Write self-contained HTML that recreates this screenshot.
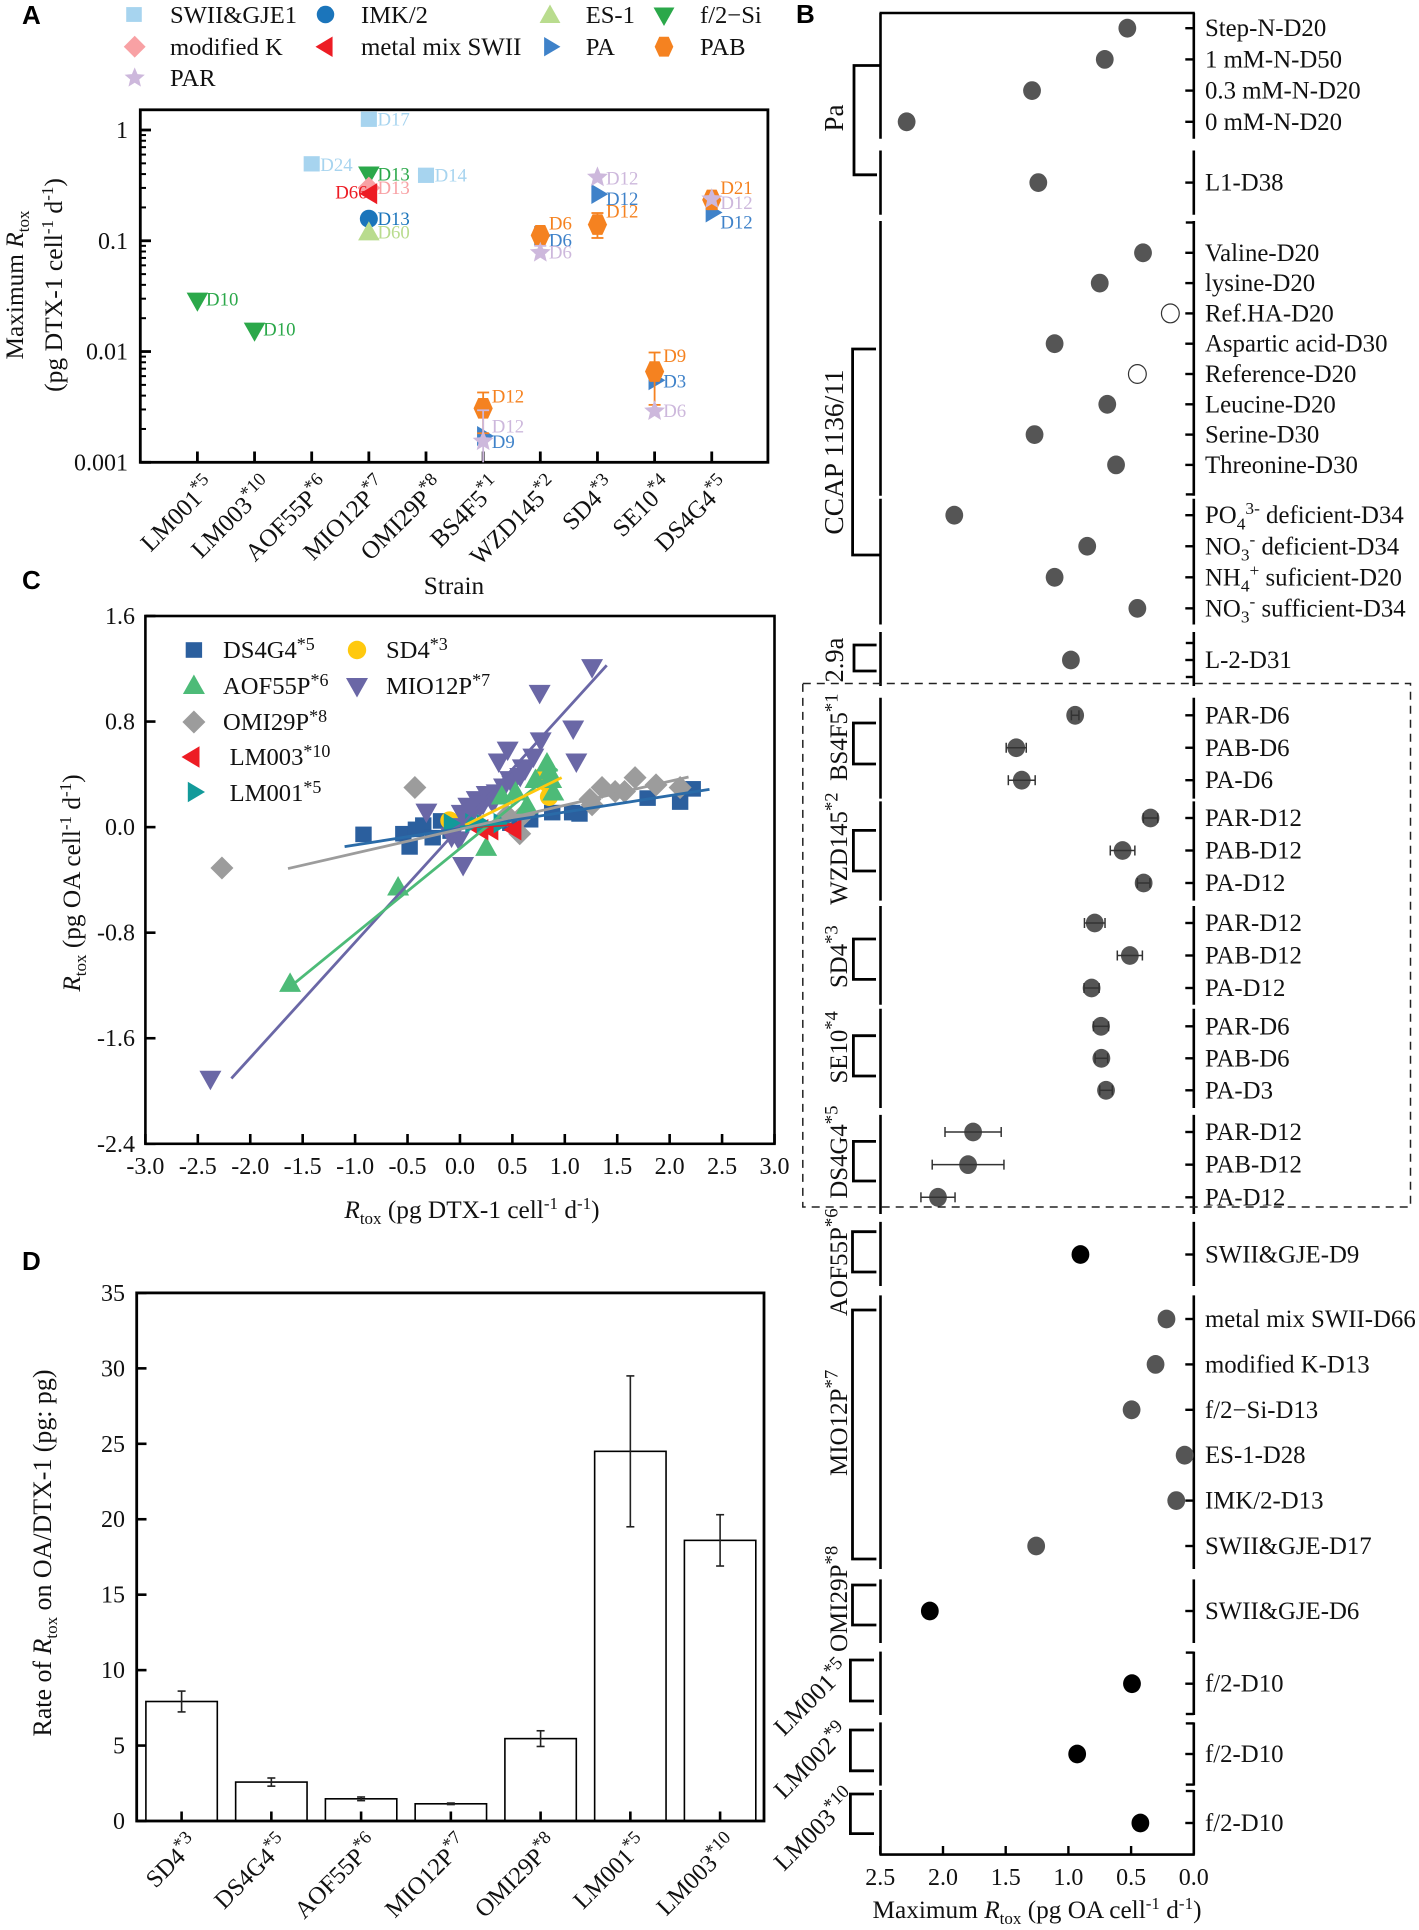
<!DOCTYPE html>
<html lang="en">
<head>
<meta charset="utf-8">
<title>Rtox multi-panel figure</title>
<style>
html,body{margin:0;padding:0;background:#fff;}
svg{display:block;font-family:"Liberation Serif",serif;}
.plab{font-family:"Liberation Sans",sans-serif;font-weight:bold;font-size:26px;}
.t24{font-size:24px;fill:#111;}
.leg{font-size:24.6px;fill:#111;}
.ttl{font-size:25.3px;fill:#111;}
</style>
</head>
<body>
<svg id="fig" xmlns="http://www.w3.org/2000/svg" width="1419" height="1930" viewBox="0 0 1419 1930">
<rect width="1419" height="1930" fill="#fff"/>

<text class="plab" x="22" y="24">A</text>
<text class="plab" x="796" y="23">B</text>
<text class="plab" x="22" y="589">C</text>
<text class="plab" x="22" y="1270">D</text>

<g id="panelA">
  <g id="aLegend">
    <text class="leg" x="170" y="23">SWII&amp;GJE1</text>
    <text class="leg" x="361" y="23">IMK/2</text>
    <text class="leg" x="585.7" y="23">ES-1</text>
    <text class="leg" x="700" y="23">f/2−Si</text>
    <text class="leg" x="170" y="55">modified K</text>
    <text class="leg" x="361" y="55" style="font-size:24.9px">metal mix SWII</text>
    <text class="leg" x="585.7" y="55">PA</text>
    <text class="leg" x="700" y="55">PAB</text>
    <text class="leg" x="170" y="86">PAR</text>
  </g>
  <text class="ttl" font-size="25.5" transform="translate(23,285) rotate(-90)" text-anchor="middle">Maximum <tspan font-style="italic">R</tspan><tspan dy="6" font-size="17">tox</tspan></text>
  <text class="ttl" transform="translate(62,285) rotate(-90)" text-anchor="middle" style="font-size:25.6px">(pg DTX-1 cell<tspan dy="-9" font-size="17">-1</tspan><tspan dy="9"> d</tspan><tspan dy="-9" font-size="17">-1</tspan><tspan dy="9">)</tspan></text>
  <text class="ttl" x="454" y="594" text-anchor="middle">Strain</text>
</g>

<g id="panelC">
  <g id="cLegend">
    <text class="leg" x="223" y="658">DS4G4<tspan dy="-8" font-size="18">*5</tspan></text>
    <text class="leg" x="386" y="658">SD4<tspan dy="-8" font-size="18">*3</tspan></text>
    <text class="leg" x="223" y="694">AOF55P<tspan dy="-8" font-size="18">*6</tspan></text>
    <text class="leg" x="386" y="694">MIO12P<tspan dy="-8" font-size="18">*7</tspan></text>
    <text class="leg" x="223" y="730">OMI29P<tspan dy="-8" font-size="18">*8</tspan></text>
    <text class="leg" x="229.6" y="765">LM003<tspan dy="-8" font-size="18">*10</tspan></text>
    <text class="leg" x="229.6" y="801">LM001<tspan dy="-8" font-size="18">*5</tspan></text>
  </g>
  <text class="ttl" transform="translate(80,883) rotate(-90)" text-anchor="middle"><tspan font-style="italic">R</tspan><tspan dy="6" font-size="17">tox</tspan><tspan dy="-6"> (pg OA cell</tspan><tspan dy="-9" font-size="17">-1</tspan><tspan dy="9"> d</tspan><tspan dy="-9" font-size="17">-1</tspan><tspan dy="9">)</tspan></text>
  <text class="ttl" x="472" y="1218" text-anchor="middle"><tspan font-style="italic">R</tspan><tspan dy="6" font-size="17">tox</tspan><tspan dy="-6"> (pg DTX-1 cell</tspan><tspan dy="-9" font-size="17">-1</tspan><tspan dy="9"> d</tspan><tspan dy="-9" font-size="17">-1</tspan><tspan dy="9">)</tspan></text>
</g>

<g id="panelD">
  <text class="ttl" style="font-size:25.9px" transform="translate(51,1553) rotate(-90)" text-anchor="middle">Rate of <tspan font-style="italic">R</tspan><tspan dy="6" font-size="17">tox</tspan><tspan dy="-6"> on OA/DTX-1 (pg: pg)</tspan></text>
</g>

<g id="panelB">
  <text class="ttl" x="1037" y="1918" text-anchor="middle">Maximum <tspan font-style="italic">R</tspan><tspan dy="6" font-size="17">tox</tspan><tspan dy="-6"> (pg OA cell</tspan><tspan dy="-9" font-size="17">-1</tspan><tspan dy="9"> d</tspan><tspan dy="-9" font-size="17">-1</tspan><tspan dy="9">)</tspan></text>
</g>
</svg>

<script>
/* ---------- Panel A data ---------- */
const aStrains = ['LM001','LM003','AOF55P','MIO12P','OMI29P','BS4F5','WZD145','SD4','SE10','DS4G4'];
const aStrainLabels = ['LM001^{*5}','LM003^{*10}','AOF55P^{*6}','MIO12P^{*7}','OMI29P^{*8}','BS4F5^{*1}','WZD145^{*2}','SD4^{*3}','SE10^{*4}','DS4G4^{*5}'];
const aTickValues = [1,0.1,0.01,0.001];
const aTickLabels = ['1','0.1','0.01','0.001'];

const swiiStrains = ['MIO12P','AOF55P','OMI29P'];
const swiiValues = [1.25,0.495,0.39];
const swiiDays = ['D17','D24','D14'];
const imkStrains = ['MIO12P'];
const imkValues = [0.158];
const imkDays = ['D13'];
const esStrains = ['MIO12P'];
const esValues = [0.121];
const esDays = ['D60'];
const f2Strains = ['LM001','LM003','MIO12P'];
const f2Values = [0.0283,0.0152,0.39];
const f2Days = ['D10','D10','D13'];
const modkStrains = ['MIO12P'];
const modkValues = [0.30];
const modkDays = ['D13'];
const metalStrains = ['MIO12P'];
const metalValues = [0.266];
const metalDays = ['D66'];
const paStrains = ['BS4F5','WZD145','SD4','SE10','DS4G4'];
const paValues = [0.00173,0.111,0.264,0.0055,0.18];
const paDays = ['D9','D6','D12','D3','D12'];
const pabStrains = ['BS4F5','WZD145','SD4','SE10','DS4G4'];
const pabValues = [0.00307,0.112,0.14,0.0066,0.234];
const pabHigh = [0.00427,0.118,0.178,0.0098,0.25];
const pabLow = [0.00183,0.106,0.106,0.0033,0.193];
const pabDays = ['D12','D6','D12','D9','D21'];
const parStrains = ['BS4F5','WZD145','SD4','SE10','DS4G4'];
const parValues = [0.00155,0.078,0.374,0.0029,0.238];
const parHigh = [0.00295,0.09,0.374,0.0029,0.238];
const parLow = [0.001,0.078,0.374,0.0029,0.238];
const parDays = ['D12','D6','D12','D6','D12'];

/* ---------- Panel B data ---------- */
const bTickValues = [2.5,2.0,1.5,1.0,0.5,0.0];
const bTickLabels = ['2.5','2.0','1.5','1.0','0.5','0.0'];
const bSegmentLabels = [
  ['Step-N-D20','1 mM-N-D50','0.3 mM-N-D20','0 mM-N-D20'],
  ['L1-D38'],
  ['Valine-D20','lysine-D20','Ref.HA-D20','Aspartic acid-D30','Reference-D20','Leucine-D20','Serine-D30','Threonine-D30'],
  ['PO_{4}^{3-} deficient-D34','NO_{3}^{-} deficient-D34','NH_{4}^{+} suficient-D20','NO_{3}^{-} sufficient-D34'],
  ['L-2-D31'],
  ['PAR-D6','PAB-D6','PA-D6'],
  ['PAR-D12','PAB-D12','PA-D12'],
  ['PAR-D12','PAB-D12','PA-D12'],
  ['PAR-D6','PAB-D6','PA-D3'],
  ['PAR-D12','PAB-D12','PA-D12'],
  ['SWII&GJE-D9'],
  ['metal mix SWII-D66','modified K-D13','f/2−Si-D13','ES-1-D28','IMK/2-D13','SWII&GJE-D17'],
  ['SWII&GJE-D6'],
  ['f/2-D10'],
  ['f/2-D10'],
  ['f/2-D10']
];
const bSegmentValues = [
  [0.53,0.71,1.29,2.29],
  [1.24],
  [0.405,0.75,0.187,1.11,0.45,0.69,1.27,0.62],
  [1.91,0.85,1.11,0.45],
  [0.98],
  [0.946,1.416,1.372],
  [0.345,0.568,0.40],
  [0.79,0.51,0.815],
  [0.74,0.737,0.70],
  [1.76,1.80,2.04],
  [0.904],
  [0.218,0.305,0.496,0.073,0.14,1.257],
  [2.105],
  [0.493],
  [0.93],
  [0.426]
];
const bSegmentErrors = [
  [0,0,0,0],[0],[0,0,0,0,0,0,0,0],[0,0,0,0],[0],
  [0.03,0.08,0.107],
  [0.057,0.098,0.05],
  [0.082,0.10,0.06],
  [0.06,0.05,0.05],
  [0.224,0.286,0.136],
  [0],[0,0,0,0,0,0],[0],[0],[0],[0]
];
const bSegmentKinds = [
  ['f','f','f','f'],['f'],['f','f','o','f','o','f','f','f'],['f','f','f','f'],['f'],
  ['f','f','f'],['f','f','f'],['f','f','f'],['f','f','f'],['f','f','f'],
  ['k'],['f','f','f','f','f','f'],['k'],['k'],['k'],['k']
];

/* ---------- Panel C data ---------- */
const cXTicks = [-3,-2.5,-2,-1.5,-1,-0.5,0,0.5,1,1.5,2,2.5,3];
const cXTickLabels = ['-3.0','-2.5','-2.0','-1.5','-1.0','-0.5','0.0','0.5','1.0','1.5','2.0','2.5','3.0'];
const cYTicks = [1.6,0.8,0,-0.8,-1.6,-2.4];
const cYTickLabels = ['1.6','0.8','0.0','-0.8','-1.6','-2.4'];
const ds4g4X = [-0.92,-0.54,-0.48,-0.42,-0.35,-0.26,-0.18,-0.09,0.48,0.67,0.88,1.07,1.14,1.79,2.1,2.22];
const ds4g4Y = [-0.055,-0.05,-0.15,-0.017,0.015,-0.08,0.047,-0.03,0.03,0.056,0.11,0.11,0.1,0.22,0.19,0.29];
const sd4X = [-0.1,0.78,0.85,0.84];
const sd4Y = [0.05,0.38,0.23,0.33];
const mioX = [-2.38,-0.32,-0.08,-0.01,0.03,-0.08,-0.03,0.017,0.05,0.08,0.125,0.16,0.19,0.22,0.255,0.29,0.315,0.35,0.37,0.42,0.455,0.478,0.5,0.575,0.6,0.62,0.7,0.76,0.77,1.08,1.11,1.26];
const mioY = [-1.915,0.11,-0.08,-0.1,-0.295,-0.07,0.0,0.10,0.06,0.154,0.11,0.205,0.15,0.17,0.243,0.21,0.18,0.256,0.49,0.3,0.58,0.356,0.32,0.38,0.445,0.43,0.527,1.01,0.65,0.74,0.49,1.205];
const omiX = [-2.27,-0.43,0.45,0.57,0.6,0.625,1.24,1.26,1.355,1.48,1.57,1.67,1.87,2.1];
const omiY = [-0.31,0.30,0.09,-0.05,0.09,0.11,0.21,0.17,0.30,0.27,0.27,0.375,0.32,0.30];
const aofX = [-1.62,-0.59,0.25,0.4,0.53,0.64,0.72,0.83,0.85,0.87,0.89];
const aofY = [-1.18,-0.45,-0.15,0.24,0.27,0.17,0.365,0.49,0.43,0.365,0.27];
const lm003X = [0.19,0.285,0.505];
const lm003Y = [-0.02,-0.02,-0.02];
const lm001X = [-0.095,0.11,0.22,0.38];
const lm001Y = [0.03,0.03,0.02,0.03];
const fitDs4g4X = [-1.1,2.38];
const fitDs4g4Y = [-0.148,0.286];
const fitOmiX = [-1.64,2.18];
const fitOmiY = [-0.314,0.38];
const fitAofX = [-1.62,0.93];
const fitAofY = [-1.21,0.44];
const fitMioX = [-2.18,1.40];
const fitMioY = [-1.905,1.226];
const fitSd4X = [0.05,0.97];
const fitSd4Y = [0.015,0.375];
const fitLm003X = [0.05,0.5];
const fitLm003Y = [0.0,0.02];
const fitLm001X = [0.0,0.45];
const fitLm001Y = [0.0,0.03];

/* ---------- Panel D data ---------- */
const dStrains = ['SD4^{*3}','DS4G4^{*5}','AOF55P^{*6}','MIO12P^{*7}','OMI29P^{*8}','LM001^{*5}','LM003^{*10}'];
const dValues = [7.92,2.58,1.47,1.14,5.46,24.5,18.6];
const dErrors = [0.69,0.27,0.12,0.05,0.52,5.0,1.7];
const dTicks = [0,5,10,15,20,25,30,35];
const dTickLabels = ['0','5','10','15','20','25','30','35'];

/* ---------- helpers ---------- */
const NS = 'http://www.w3.org/2000/svg';
const svg = document.getElementById('fig');
function el(tag, parent, attrs) {
  const e = document.createElementNS(NS, tag);
  for (const k in attrs) e.setAttribute(k, attrs[k]);
  parent.appendChild(e);
  return e;
}
function line(parent, x1, y1, x2, y2, color, w) {
  return el('line', parent, {x1:x1, y1:y1, x2:x2, y2:y2, stroke:color, 'stroke-width':w});
}
function richText(t, str, size, supScale) {
  const re = /([_^])\{([^}]*)\}/g;
  let last = 0, m, pending = 0;
  function plain(s) {
    if (!s) return;
    const ts = el('tspan', t, {});
    if (pending) { ts.setAttribute('dy', pending); pending = 0; }
    ts.textContent = s;
  }
  while ((m = re.exec(str))) {
    plain(str.slice(last, m.index));
    last = re.lastIndex;
    const isSub = m[1] === '_';
    const shift = isSub ? size * 0.25 : -size * 0.38;
    const ts = el('tspan', t, {dy: pending + shift, 'font-size': size * (isSub ? 0.7 : (supScale || 0.7))});
    ts.textContent = m[2];
    pending = -shift;
  }
  plain(str.slice(last));
}
function marker(parent, shape, x, y, s, color) {
  const pts = a => a.map(p => (x + p[0] * s).toFixed(2) + ',' + (y + p[1] * s).toFixed(2)).join(' ');
  if (shape === 'square') return el('rect', parent, {x:x - s * 0.82, y:y - s * 0.78, width:s * 1.64, height:s * 1.56, fill:color});
  if (shape === 'circle') return el('ellipse', parent, {cx:x, cy:y, rx:s * 0.92, ry:s * 0.92, fill:color});
  if (shape === 'up') return el('polygon', parent, {points:pts([[0,-1.05],[1.1,0.9],[-1.1,0.9]]), fill:color});
  if (shape === 'down') return el('polygon', parent, {points:pts([[0,1.05],[1.1,-0.9],[-1.1,-0.9]]), fill:color});
  if (shape === 'left') return el('polygon', parent, {points:pts([[-0.95,0],[0.85,-1.08],[0.85,1.08]]), fill:color});
  if (shape === 'right') return el('polygon', parent, {points:pts([[1.1,0],[-0.62,-1.02],[-0.62,1.02]]), fill:color});
  if (shape === 'diamond') return el('polygon', parent, {points:pts([[0,-1.15],[1.15,0],[0,1.15],[-1.15,0]]), fill:color});
  if (shape === 'hex') return el('polygon', parent, {points:pts([[-0.5,-1.05],[0.5,-1.05],[0.98,0],[0.5,1.05],[-0.5,1.05],[-0.98,0]]), fill:color});
  if (shape === 'star') {
    const a = [];
    for (let i = 0; i < 10; i++) {
      const r = i % 2 ? 0.5 : 1.12, th = -Math.PI / 2 + i * Math.PI / 5;
      a.push([r * Math.cos(th), r * Math.sin(th)]);
    }
    return el('polygon', parent, {points:pts(a), fill:color});
  }
}

/* ---------- Panel A ---------- */
const pA = document.getElementById('panelA');
const aLeg = document.getElementById('aLegend');
const aX = i => 197.4 + i * 57.15;
const aXS = name => aX(aStrains.indexOf(name));
const aY = v => 130 + (0 - Math.log10(v)) * 110.77;
const COL = {swii:'#a7d4ef',imk:'#1b75bb',es:'#b9dc8e',f2:'#2ba84a',modk:'#f8a1a4',metal:'#ed1c24',pa:'#3f82c9',pab:'#f58220',par:'#cdb8dc'};

const aLegendShapes = [
  ['square',134,14.5,COL.swii,'legend-marker-swii'],['circle',325.5,14.5,COL.imk,'legend-marker-imk'],
  ['up',550,14.5,COL.es,'legend-marker-es1'],['down',664,16,COL.f2,'legend-marker-f2-si'],
  ['diamond',134.7,46.7,COL.modk,'legend-marker-modified-k'],['left',324.5,46.7,COL.metal,'legend-marker-metal-mix'],
  ['right',550,46.7,COL.pa,'legend-marker-pa'],['hex',664,46.7,COL.pab,'legend-marker-pab'],
  ['star',134.7,78,COL.par,'legend-marker-par']
];
aLegendShapes.forEach(d => {
  const m = marker(aLeg, d[0], d[1], d[2], 9.5, d[3]);
  
  
});

const aFrame = el('rect', pA, {x:140.3, y:109.8, width:627.6, height:352.5, fill:'none', stroke:'#000', 'stroke-width':2.8});



aTickValues.forEach((v, i) => {
  const y = aY(v);
  const t = line(pA, 140.3, y, 151, y, '#000', 2.8);
  
  
  const lab = el('text', pA, {x:128, y:y + 8, 'text-anchor':'end', class:'t24'});
  lab.textContent = aTickLabels[i];
  
  
  if (i < aTickValues.length - 1) {
    for (let k = 2; k <= 9; k++) {
      const ym = aY(v / 10 * k);
      const mt = line(pA, 140.3, ym, 146, ym, '#000', 2);
      
      
    }
  }
});
aStrainLabels.forEach((s, i) => {
  const x = aX(i);
  const t = line(pA, x, 462, x, 451.5, '#000', 2.8);
  
  
  const lab = el('text', pA, {transform:'translate(' + (x + 19) + ',487) rotate(-45)', 'text-anchor':'end', class:'t24', style:'font-size:24.8px'});
  richText(lab, s, 24.8, 0.75);
  
  
});

const aLabelNudgeSwii = [0,1,0];
const aLabelNudgeF2 = [-2,-2,-1];
const aLabelNudgePa = [6,5,5,1,10];
const aLabelNudgePab = [-12,-12,-13,-15.5,-12];
const aLabelNudgePar = [-14.6,0,1,0,4];
function drawASeries(key, shape, strains, values, days, nudge, hi, lo, size) {
  strains.forEach((s, i) => {
    const x = aXS(s), c = COL[key];
    if (hi && hi[i] !== values[i]) {
      const g = el('g', pA, {});
      
      
      const yHi = aY(hi[i]), yLo = aY(lo[i]);
      line(g, x, yHi, x, yLo, c, 1.8);
      line(g, x - 6, yHi, x + 6, yHi, c, 1.8);
      if (yLo < 460) line(g, x - 6, yLo, x + 6, yLo, c, 1.8);
    }
  });
  strains.forEach((s, i) => {
    const x = aXS(s), y = aY(values[i]), c = COL[key];
    const m = marker(pA, shape, x, y, size || 9.8, c);
    
    
    const isMetal = key === 'metal';
    const lab = el('text', pA, {x: isMetal ? 335.2 : x + 8.6, y: y + (nudge ? nudge[i] : 0) + 6, 'font-size':18.8, fill:c});
    lab.textContent = days[i];
    
    
    if (isMetal) pA.insertBefore(lab, m);
  });
}
drawASeries('swii','square',swiiStrains,swiiValues,swiiDays,aLabelNudgeSwii);
drawASeries('imk','circle',imkStrains,imkValues,imkDays);
drawASeries('es','up',esStrains,esValues,esDays,[1]);
drawASeries('f2','down',f2Strains,f2Values,f2Days,aLabelNudgeF2);
drawASeries('modk','diamond',modkStrains,modkValues,modkDays);
drawASeries('metal','left',metalStrains,metalValues,metalDays,[-1]);
drawASeries('pa','right',paStrains,paValues,paDays,aLabelNudgePa);
drawASeries('pab','hex',pabStrains,pabValues,pabDays,aLabelNudgePab,pabHigh,pabLow);
drawASeries('par','star',parStrains,parValues,parDays,aLabelNudgePar,parHigh,parLow);

/* ---------- Panel C ---------- */
const pC = document.getElementById('panelC');
const cLeg = document.getElementById('cLegend');
const cX = v => 145.4 + (v + 3) * 104.85;
const cY = v => 616 + (1.6 - v) * 131.95;
const CC = {ds:'#2b5f9e',dsl:'#2a6ba8',aof:'#4dbb78',omi:'#9c9c9c',lm3:'#ed1c24',lm1:'#129a9a',sd:'#ffc90e',mio:'#6a67a6'};

const cFrame = el('rect', pC, {x:145.4, y:616, width:629.1, height:527.8, fill:'none', stroke:'#000', 'stroke-width':2.6});


cXTicks.forEach((v, i) => {
  const x = cX(v);
  const t = line(pC, x, 1143.8, x, 1134, '#000', 2.6);
  
  
  const lab = el('text', pC, {x:x, y:1174, 'text-anchor':'middle', class:'t24'});
  lab.textContent = cXTickLabels[i];
  
  
});
cYTicks.forEach((v, i) => {
  const y = cY(v);
  const t = line(pC, 145.4, y, 155.5, y, '#000', 2.6);
  
  
  const lab = el('text', pC, {x:135, y:y + 8, 'text-anchor':'end', class:'t24'});
  lab.textContent = cYTickLabels[i];
  
  
});
const cLegendShapes = [
  ['square',193.9,650,CC.ds,'legend-marker-ds4g4'],['circle',357,650,CC.sd,'legend-marker-sd4'],
  ['up',193.9,685,CC.aof,'legend-marker-aof55p'],['down',357,687,CC.mio,'legend-marker-mio12p'],
  ['diamond',193.9,722,CC.omi,'legend-marker-omi29p'],['left',191,757,CC.lm3,'legend-marker-lm003'],
  ['right',194,792,CC.lm1,'legend-marker-lm001']
];
cLegendShapes.forEach(d => {
  const m = marker(cLeg, d[0], d[1], d[2], 10, d[3]);
  
  
});
function drawCPoints(name, shape, xs, ys, color) {
  xs.forEach((v, i) => {
    const m = marker(pC, shape, cX(v), cY(ys[i]), 10, color);
    
    
  });
}
function drawCFit(name, xs, ys, color) {
  const l = line(pC, cX(xs[0]), cY(ys[0]), cX(xs[1]), cY(ys[1]), color, 2.8);
  
  
}
drawCPoints('ds4g4','square',ds4g4X,ds4g4Y,CC.ds);
drawCPoints('sd4','circle',sd4X,sd4Y,CC.sd);
drawCPoints('omi29p','diamond',omiX,omiY,CC.omi);
drawCPoints('mio12p','down',mioX,mioY,CC.mio);
drawCPoints('aof55p','up',aofX,aofY,CC.aof);
drawCPoints('lm003','left',lm003X,lm003Y,CC.lm3);
drawCPoints('lm001','right',lm001X,lm001Y,CC.lm1);
drawCFit('mio12p',fitMioX,fitMioY,CC.mio);
drawCFit('aof55p',fitAofX,fitAofY,CC.aof);
drawCFit('ds4g4',fitDs4g4X,fitDs4g4Y,CC.dsl);
drawCFit('sd4',fitSd4X,fitSd4Y,CC.sd);
drawCFit('lm003',fitLm003X,fitLm003Y,CC.lm3);
drawCFit('lm001',fitLm001X,fitLm001Y,CC.lm1);
drawCFit('omi29p',fitOmiX,fitOmiY,CC.omi);

/* ---------- Panel D ---------- */
const pD = document.getElementById('panelD');
const dX = i => 181.6 + i * 89.75;
const dY = v => 1821 - v * 15.088;
dValues.forEach((v, i) => {
  const x = dX(i);
  const b = el('rect', pD, {x:x - 35.7, y:dY(v), width:71.4, height:1821 - dY(v), fill:'#fff', stroke:'#000', 'stroke-width':1.6});
  
  
  const e = el('g', pD, {});
  
  
  const top = dY(v + dErrors[i]), bot = dY(v - dErrors[i]);
  line(e, x, top, x, bot, '#222', 1.6);
  line(e, x - 4, top, x + 4, top, '#222', 1.6);
  line(e, x - 4, bot, x + 4, bot, '#222', 1.6);
  const t = line(pD, x, 1821, x, 1811.5, '#000', 2.6);
  
  
  const lab = el('text', pD, {transform:'translate(' + (x + 18) + ',1845) rotate(-45)', 'text-anchor':'end', class:'t24', style:'font-size:24.6px'});
  richText(lab, dStrains[i], 24.6, 0.75);
  
  
});
const dFrame = el('rect', pD, {x:136.7, y:1292.9, width:627.3, height:528.1, fill:'none', stroke:'#000', 'stroke-width':2.8});


dTicks.forEach((v, i) => {
  const y = dY(v);
  const t = line(pD, 136.7, y, 146.5, y, '#000', 2.6);
  
  
  const lab = el('text', pD, {x:125, y:y + 8, 'text-anchor':'end', class:'t24'});
  lab.textContent = dTickLabels[i];
  
  
});

/* ---------- Panel B ---------- */
const pB = document.getElementById('panelB');
const bX = v => 1193.8 - v * 125.4;
const bLeft = 880.5;
const bRight = 1193.8;
const bLayout = [
  {top:13,bot:138.8,first:28.2,step:31.2},
  {top:150.5,bot:214.7,first:182.6,step:0},
  {top:221,bot:495.7,first:252.8,step:30.3,ends:[222.5,494.4]},
  {top:498.7,bot:624.5,first:515.2,step:31.05},
  {top:632,bot:686,first:660,step:0,ends:[643,677]},
  {top:697.8,bot:798.6,first:715.3,step:32.45},
  {top:801.4,bot:900.6,first:818,step:32.5},
  {top:906,bot:1004.7,first:923,step:32.5},
  {top:1008.8,bot:1108,first:1026.3,step:32},
  {top:1114.9,bot:1214,first:1132,step:32.65},
  {top:1221.9,bot:1286,first:1254.5,step:0},
  {top:1295.4,bot:1569,first:1319,step:45.4},
  {top:1579.4,bot:1643,first:1611,step:0},
  {top:1651.6,bot:1715,first:1683.7,step:0,ends:[1652.6,1714]},
  {top:1722.4,bot:1785.6,first:1754,step:0,ends:[1723.4,1784.6]},
  {top:1790,bot:1854.6,first:1823,step:0,ends:[1791]}
];
const bBrackets = [
  {x:854,t:65.5,b:174.8,rt:880,rb:877},
  {x:852.6,t:349,b:555,rt:876,rb:880},
  {x:854,t:645,b:671,rt:876.6,rb:876.6},
  {x:853.4,t:723,b:764,rt:876,rb:876},
  {x:853.4,t:830.4,b:871,rt:876,rb:876},
  {x:853.4,t:939,b:979.4,rt:876,rb:876},
  {x:853.4,t:1035.7,b:1076,rt:876,rb:876},
  {x:853.4,t:1141.4,b:1181,rt:876,rb:876},
  {x:852.5,t:1231.7,b:1272,rt:876.4,rb:876.4},
  {x:852.5,t:1310,b:1559,rt:876.4,rb:876.4},
  {x:852.5,t:1585,b:1625,rt:876.4,rb:876.4},
  {x:850.4,t:1660,b:1701,rt:874,rb:874},
  {x:850.4,t:1730,b:1770.8,rt:874,rb:874},
  {x:850.4,t:1794,b:1833.6,rt:874,rb:874}
];
const bTop = line(pB, bLeft - 1, 13, bRight + 1, 13, '#000', 2.6);


const bBottom = line(pB, bLeft - 1, 1854.6, bRight + 1, 1854.6, '#000', 2.6);


bLayout.forEach((s, si) => {
  const l = line(pB, bLeft, s.top, bLeft, s.bot, '#000', 2.6);
  
  
  const r = line(pB, bRight, s.top, bRight, s.bot, '#000', 2.6);
  
  
  (s.ends || []).forEach(y => {
    const e = line(pB, bRight, y, bRight - 8, y, '#000', 2.4);
    
    
  });
  bSegmentLabels[si].forEach((label, j) => {
    const y = s.first + j * s.step;
    const t = line(pB, bRight, y, bRight - 8.5, y, '#000', 2.4);
    
    
    const lab = el('text', pB, {x:1205, y:y + 8, 'font-size':24.8, fill:'#111'});
    richText(lab, label, 24.8);
    
    
    const v = bSegmentValues[si][j], kind = bSegmentKinds[si][j], x = bX(v);
    const dot = el('ellipse', pB, {cx:x, cy:y, rx:8.9, ry:9.4,
      fill: kind === 'o' ? '#fff' : (kind === 'k' ? '#000' : '#555'),
      stroke: kind === 'o' ? '#333' : 'none', 'stroke-width':1.2});
    
    
    const err = bSegmentErrors[si][j];
    if (err > 0) {
      const g = el('g', pB, {});
      
      
      const x0 = bX(v + err), x1 = bX(v - err);
      line(g, x0, y, x1, y, '#333', 1.5);
      line(g, x0, y - 5, x0, y + 5, '#333', 1.5);
      line(g, x1, y - 5, x1, y + 5, '#333', 1.5);
    }
  });
});
bBrackets.forEach(b => {
  const p = el('path', pB, {d:'M' + b.rt + ' ' + b.t + 'H' + b.x + 'V' + b.b + 'H' + b.rb, fill:'none', stroke:'#000', 'stroke-width':2.8});
  
  
});
bTickValues.forEach((v, i) => {
  const x = bX(v);
  const t = line(pB, x, 1854.6, x, 1846, '#000', 2.4);
  
  
  const lab = el('text', pB, {x:x, y:1885, 'text-anchor':'middle', class:'t24'});
  lab.textContent = bTickLabels[i];
  
  
});
const bGroupLabels = [
  ['Pa',843,118,-90,'middle',27],['CCAP 1136/11',843,452,-90,'middle',27.4],['2.9a',843,660,-90,'middle',26.5],
  ['BS4F5^{*1}',847,781,-90,'start',24.8],['WZD145^{*2}',847,904.7,-90,'start',24.8],['SD4^{*3}',847,988,-90,'start',24.8],
  ['SE10^{*4}',847,1083.5,-90,'start',24.8],['DS4G4^{*5}',847,1198.6,-90,'start',24.8],['AOF55P^{*6}',847,1316,-90,'start',25],
  ['MIO12P^{*7}',847,1476,-90,'start',25],['OMI29P^{*8}',847,1652,-90,'start',25],
  ['LM001^{*5}',784,1737,-45,'start',25],['LM002^{*9}',784,1800,-45,'start',25],['LM003^{*10}',784,1872,-45,'start',25]
];
bGroupLabels.forEach(d => {
  const t = el('text', pB, {transform:'translate(' + d[1] + ',' + d[2] + ') rotate(' + d[3] + ')', 'text-anchor':d[4], class:'t24', style:'font-size:' + d[5] + 'px'});
  richText(t, d[0], d[5], 0.75);
  
  
});
const box = el('rect', pB, {x:802.8, y:683.5, width:607.7, height:523.5, fill:'none', stroke:'#222', 'stroke-width':1.5, 'stroke-dasharray':'8 6'});


</script>
</body>
</html>
